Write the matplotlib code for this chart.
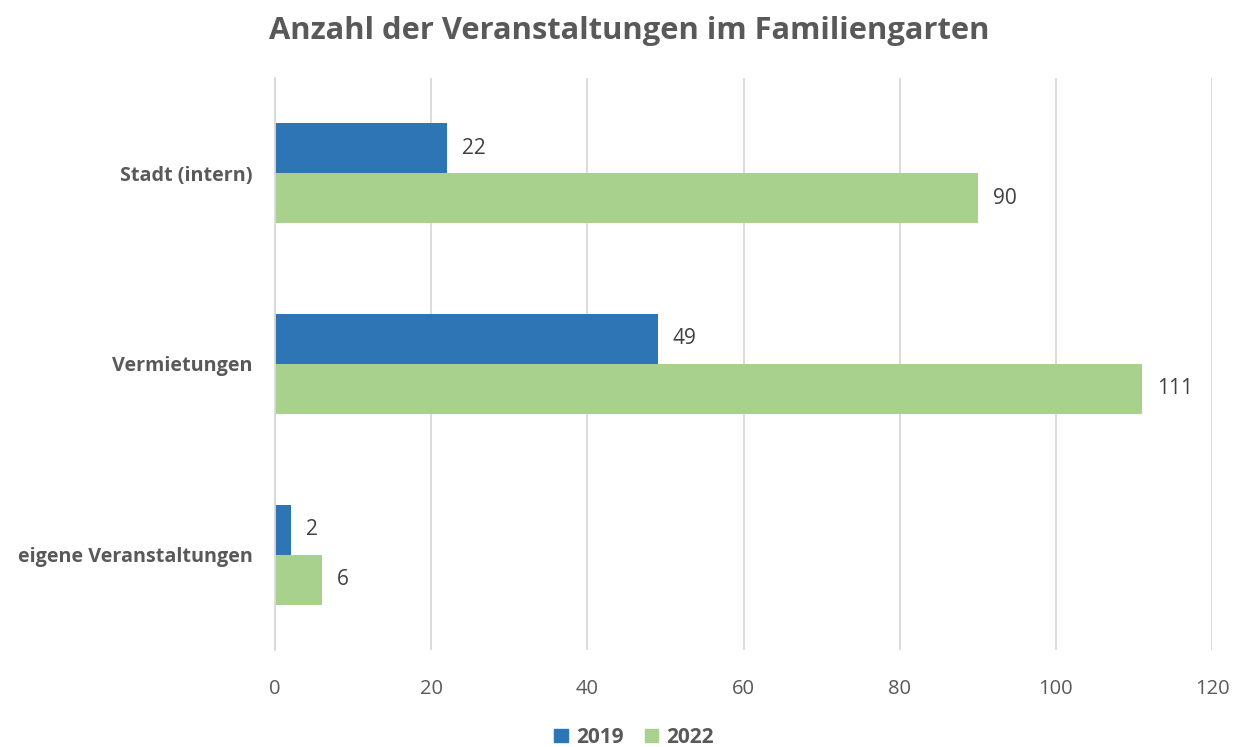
import numpy as np
import matplotlib.pyplot as plt
from matplotlib.patches import Patch

plt.rcParams['font.family'] = ['Open Sans', 'DejaVu Sans']

categories = ["Stadt (intern)", "Vermietungen", "eigene Veranstaltungen"]
values_2019 = [22, 49, 2]
values_2022 = [90, 111, 6]
series_names = ["2019", "2022"]

blue = "#2E75B6"
green = "#A9D18E"
grey = "#595959"

fig = plt.figure(figsize=(12.34, 7.47), dpi=100)
ax = fig.add_axes([0.2229, 0.1299, 0.7593, 0.7657])

y = np.arange(len(categories))
h = 0.262
b1 = ax.barh(y - h / 2, values_2019, height=h, color=blue)
b2 = ax.barh(y + h / 2, values_2022, height=h, color=green)

for bars in (b1, b2):
    for rect in bars:
        w = rect.get_width()
        ax.annotate(str(int(w)), (w, rect.get_y() + rect.get_height() / 2),
                    xytext=(11, 0), textcoords="offset points", va="center",
                    ha="left", fontsize=15, color="#404040")

ax.set_xlim(0, 120)
ax.set_ylim(2.5, -0.5)
ax.set_xticks(np.arange(0, 121, 20))
ax.set_yticks(y)
ax.set_yticklabels(categories, fontsize=14.2, fontweight="bold", color=grey)
ax.tick_params(axis="x", labelsize=14.5, labelcolor=grey, length=0, pad=21)
ax.tick_params(axis="y", length=0, pad=16)
ax.grid(axis="x", color="#D9D9D9", linewidth=1.3)
ax.set_axisbelow(True)
for s in ["top", "right", "bottom"]:
    ax.spines[s].set_visible(False)
ax.spines["left"].set_color("#D9D9D9")
ax.spines["left"].set_linewidth(1.3)

fig.text(0.51, 0.958, "Anzahl der Veranstaltungen im Familiengarten",
         ha="center", va="center", fontsize=22.2, fontweight="bold", color=grey)

handles = [Patch(color=blue), Patch(color=green)]
fig.legend(handles, series_names, loc="center", bbox_to_anchor=(0.514, 0.013),
           ncol=2, frameon=False, handlelength=0.65, handleheight=0.65,
           handletextpad=0.4, columnspacing=1.0,
           prop={"size": 15, "weight": "bold"}, labelcolor=grey)

fig.savefig("out.png", dpi=100)
